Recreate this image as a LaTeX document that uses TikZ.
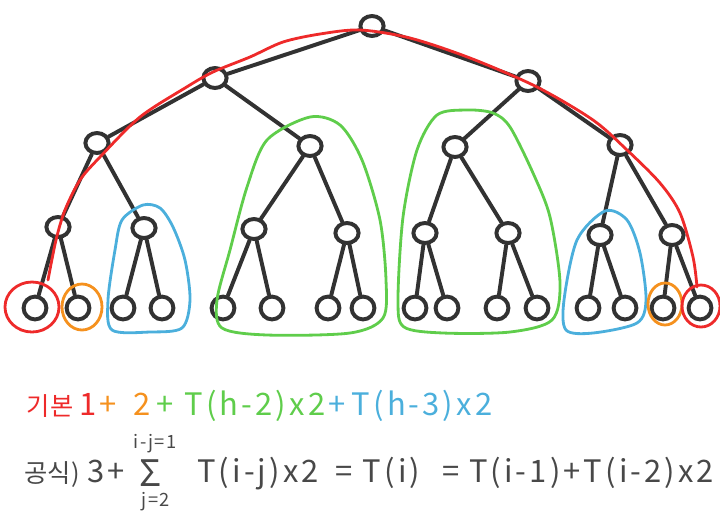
\documentclass[tikz,border=0pt]{standalone}
\usepackage{fontspec}
\setmainfont{Noto Sans CJK KR}
\usetikzlibrary{shapes.geometric}
\definecolor{treeink}{RGB}{50,50,50}
\definecolor{textink}{RGB}{72,72,72}
\definecolor{baseRed}{RGB}{238,42,42}
\definecolor{baseOrange}{RGB}{245,145,30}
\definecolor{baseGreen}{RGB}{95,205,75}
\definecolor{baseBlue}{RGB}{75,175,220}
\tikzset{
  leaf/.style={circle, draw=treeink, line width=2.8pt, fill=white,
               minimum size=0.57cm, inner sep=0pt},
  inode/.style={ellipse, draw=treeink, line width=2.8pt, fill=white,
                minimum width=0.58cm, minimum height=0.5cm, inner sep=0pt},
  link/.style={treeink, line width=2.8pt, line cap=round},
  hull/.style={line width=2pt},
  big/.style={font=\fontsize{22}{26}\selectfont\addfontfeatures{LetterSpace=10},
              anchor=base, inner sep=0pt},
  hangul/.style={font=\fontsize{18}{22}\selectfont, anchor=base, inner sep=0pt},
  sigmasign/.style={font=\fontsize{26}{30}\selectfont, anchor=base, inner sep=0pt},
  small/.style={font=\fontsize{13}{15}\selectfont\addfontfeatures{LetterSpace=8},
                inner sep=0pt, text=textink},
}

\begin{document}
\begin{tikzpicture}[x=0.025cm, y=-0.025cm]
  \useasboundingbox (0,0) rectangle (720,527);

  % tree
  \node[inode] (root) at (372,26) {};
  \node[inode] (a1) at (215,78) {};
  \node[inode] (a2) at (528,81) {};
  \node[inode] (b1) at (97,143) {};
  \node[inode] (b2) at (310,146) {};
  \node[inode] (b3) at (455,147) {};
  \node[inode] (b4) at (620,145) {};
  \foreach \n/\x/\y in {1/58/227, 2/144/228, 3/254/229, 4/347/233,
                        5/425/233, 6/508/233, 7/600/235, 8/672/235}
    \node[inode] (c\n) at (\x,\y) {};
  \foreach \n/\x in {1/35, 2/78, 3/123, 4/162, 5/223, 6/272, 7/328, 8/363,
                     9/415, 10/447, 11/497, 12/537, 13/588, 14/625, 15/663, 16/700}
    \node[leaf] (d\n) at (\x,308) {};

  \draw[link] (root) -- (a1);
  \draw[link] (root) -- (a2);
  \draw[link] (a1) -- (b1);
  \draw[link] (a1) -- (b2);
  \draw[link] (a2) -- (b3);
  \draw[link] (a2) -- (b4);
  \foreach \k in {1,...,4} {
    \pgfmathtruncatemacro{\lo}{2*\k-1}
    \pgfmathtruncatemacro{\hi}{2*\k}
    \draw[link] (b\k) -- (c\lo);
    \draw[link] (b\k) -- (c\hi);
  }
  \foreach \k in {1,...,8} {
    \pgfmathtruncatemacro{\lo}{2*\k-1}
    \pgfmathtruncatemacro{\hi}{2*\k}
    \draw[link] (c\k) -- (d\lo);
    \draw[link] (c\k) -- (d\hi);
  }

  % blue
  \draw[hull, baseBlue] plot[smooth cycle] coordinates {(143,205) (122,220) (115,250) (108,300)
      (112,330) (150,332) (182,328) (190,300) (185,260) (173,227) (160,208)};
  \draw[hull, baseBlue] plot[smooth cycle] coordinates {(605,211) (577,240) (564,300) (566,330)
      (593,333) (637,323) (646,300) (640,253) (627,220)};
  % green
  \draw[hull, baseGreen] plot[smooth cycle] coordinates {(310,117) (267,140) (247,187) (230,250)
      (217,300) (222,328) (267,335) (350,333) (383,318) (386,280) (380,220) (362,160) (340,125)};
  \draw[hull, baseGreen] plot[smooth cycle] coordinates {(467,110) (437,115) (417,150) (403,217)
      (398,300) (404,327) (443,333) (510,332) (552,320) (560,283) (550,217) (533,173) (510,127) (493,113)};
  % orange
  \draw[hull, baseOrange] (82,307) ellipse [x radius=0.5cm, y radius=0.575cm];
  \draw[hull, baseOrange] (665,304) ellipse [x radius=0.425cm, y radius=0.525cm];
  % red
  \draw[hull, baseRed] (32,307) ellipse [x radius=0.675cm, y radius=0.625cm];
  \draw[hull, baseRed] (701,306) ellipse [x radius=0.475cm, y radius=0.525cm];
  \draw[hull, baseRed, line cap=round] plot[smooth] coordinates {(48,280) (56,240) (65,210) (80,180)
      (100,157) (140,117) (185,88) (213,72) (250,57) (283,42) (320,34) (360,30) (410,38) (470,58)
      (537,87) (593,120) (627,150) (660,183) (680,213) (693,257) (697,287)};

  % line 1
  \node[hangul, text=baseRed] (kibon) at (50,415) {기본};
  \node[big, text=baseRed] (one) at (88,415) {1};
  \node[big, text=baseOrange] (plusA) at (108,415) {+};
  \node[big, text=baseOrange] (two) at (142,415) {2};
  \node[big, text=baseGreen] (plusB) at (165,415) {+};
  \node[big, text=baseGreen] (thtwo) at (255,415) {T(h-2)x2};
  \node[big, text=baseBlue] (plusC) at (337,415) {+};
  \node[big, text=baseBlue] (ththree) at (422,415) {T(h-3)x2};

  % line 2
  \node[hangul, text=textink] (gongsik) at (52,482) {공식)};
  \node[big, text=textink] (three) at (106,482) {3+};
  \node[sigmasign, text=textink] (sigma) at (150,486) {Σ};
  \node[small] (upper) at (155,444) {i-j=1};
  \node[small] (lower) at (156,502) {j=2};
  \node[big, text=textink] (term) at (258,482) {T(i-j)x2};
  \node[big, text=textink] (ti) at (378,482) {= T(i)};
  \node[big, text=textink] (rec) at (578,482) {= T(i-1)+T(i-2)x2};
\end{tikzpicture}
\end{document}
